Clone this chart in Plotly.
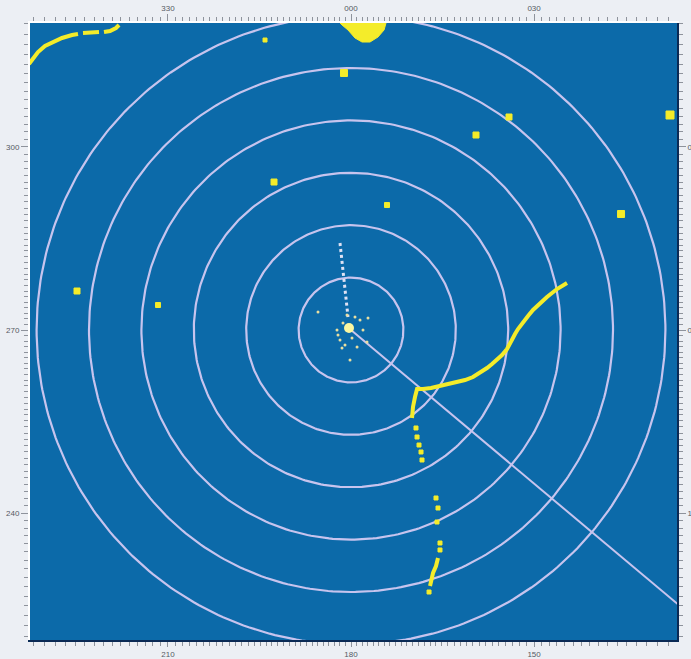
import numpy as np
import plotly.graph_objects as go

# ---------------- data (east / north offsets, one unit = one range ring) ----------------
ring_radii = [1, 2, 3, 4, 5, 6]
heading_bearing = 130
heading_length = 10

coast_x = [-6.145, -6.069, -5.973, -5.840, -5.687, -5.515, -5.324, -5.210, None,
           -5.115, -4.809, None, -4.714, -4.599, -4.485, -4.427]
coast_y = [5.076, 5.191, 5.305, 5.420, 5.496, 5.573, 5.630, 5.649, None,
           5.668, 5.687, None, 5.687, 5.706, 5.763, 5.821]

land_x = [-0.230, -0.210, -0.172, -0.057, 0.076, 0.210, 0.363, 0.515, 0.630, 0.668, 0.690]
land_y = [6.0, 5.859, 5.821, 5.725, 5.573, 5.496, 5.496, 5.592, 5.725, 5.859, 6.0]

blip_x = [-1.641, -0.134, 2.385, 3.015, 6.088, -1.469, 0.687, 5.153, -5.229, -3.683]
blip_y = [5.534, 4.905, 3.721, 4.065, 4.103, 2.824, 2.385, 2.214, 0.744, 0.477]
blip_echo = [4, 7, 6, 6, 8, 6, 5, 7, 6, 5]

track_x = [4.122, 4.046, 3.931, 3.740, 3.607, 3.473, 3.378, 3.282, 3.187, 3.130, 3.053,
           2.977, 2.882, 2.786, 2.691, 2.595, 2.462, 2.328, 2.176, 2.023, 1.851, 1.698,
           1.527, 1.374, 1.260, 1.221, 1.183, 1.164]
track_y = [0.897, 0.859, 0.782, 0.630, 0.515, 0.382, 0.267, 0.153, 0.019, -0.076, -0.229,
           -0.363, -0.477, -0.573, -0.649, -0.725, -0.821, -0.897, -0.954, -0.992, -1.031,
           -1.069, -1.107, -1.126, -1.126, -1.279, -1.469, -1.679]

trail_dots_x = [1.240, 1.260, 1.298, 1.336, 1.355, 1.622, 1.660, 1.641, 1.698, 1.698, 1.489]
trail_dots_y = [-1.870, -2.042, -2.195, -2.328, -2.481, -3.206, -3.397, -3.664, -4.065, -4.198, -5.000]

wake_x = [1.660, 1.622, 1.565, 1.527, 1.508]
wake_y = [-4.351, -4.504, -4.637, -4.771, -4.885]

clutter_x = [0.019, 0.115, -0.248, -0.153, 0.172, 0.324, 0.229, 0.305, -0.210, -0.115,
             -0.019, -0.630, 0.076, -0.076, -0.267, -0.172]
clutter_y = [-0.153, -0.324, -0.095, 0.134, 0.191, 0.229, 0.0, -0.229, -0.191, -0.286,
             -0.573, 0.344, 0.248, 0.286, 0.0, -0.344]
own_ship_x = [-0.038]
own_ship_y = [0.038]

stern_trail_x = [-0.210, -0.057]
stern_trail_y = [1.660, 0.248]

top_labels = {"330": -30, "000": 0, "030": 30}
bottom_labels = {"210": -30, "180": 0, "150": 30}
left_labels = {"240": -30, "270": 0, "300": 30}
right_labels = {"120": -30, "090": 0, "060": 30}

# ---------------- styling ----------------
BLUE = "#0c6aa9"
RING = "#c7c4ee"
YELLOW = "#f4ec2a"
FRAME = "#eceff4"
TICK = "#8e939c"

X_RANGE = [-6.126, 6.221]
Y_RANGE = [-5.916, 5.859]
EDGE = 6.05

fig = go.Figure()

t = np.linspace(0, 2 * np.pi, 361)
for r in ring_radii:
    fig.add_trace(go.Scatter(x=r * np.sin(t), y=r * np.cos(t), mode="lines",
                             line=dict(color=RING, width=2.2), hoverinfo="skip",
                             showlegend=False))

hb = np.radians(heading_bearing)
fig.add_trace(go.Scatter(x=[0, heading_length * np.sin(hb)], y=[0, heading_length * np.cos(hb)],
                         mode="lines", line=dict(color=RING, width=2), showlegend=False))

fig.add_trace(go.Scatter(x=stern_trail_x, y=stern_trail_y, mode="lines",
                         line=dict(color="#dfe2f4", width=3, dash="dot"), showlegend=False))

fig.add_trace(go.Scatter(x=land_x, y=land_y, mode="lines", fill="toself", fillcolor=YELLOW,
                         line=dict(color=YELLOW, width=1), showlegend=False))

fig.add_trace(go.Scatter(x=coast_x, y=coast_y, mode="lines",
                         line=dict(color=YELLOW, width=4), showlegend=False))

fig.add_trace(go.Scatter(x=blip_x, y=blip_y, mode="markers",
                         marker=dict(symbol="square", size=blip_echo, color=YELLOW, opacity=1,
                                     line=dict(width=1, color=YELLOW)), showlegend=False))

fig.add_trace(go.Scatter(x=track_x, y=track_y, mode="lines",
                         line=dict(color=YELLOW, width=4), showlegend=False))

fig.add_trace(go.Scatter(x=trail_dots_x, y=trail_dots_y, mode="markers",
                         marker=dict(symbol="square", size=4, color=YELLOW, opacity=1,
                                     line=dict(width=1, color=YELLOW)), showlegend=False))

fig.add_trace(go.Scatter(x=wake_x, y=wake_y, mode="lines",
                         line=dict(color=YELLOW, width=4), showlegend=False))

fig.add_trace(go.Scatter(x=clutter_x, y=clutter_y, mode="markers",
                         marker=dict(size=3, color="#e9dfa0", opacity=1), showlegend=False))

fig.add_trace(go.Scatter(x=own_ship_x, y=own_ship_y, mode="markers",
                         marker=dict(size=10, color="#fbf7a0", opacity=1), showlegend=False))

# dummy trace to bring the top/right bearing axes to life
fig.add_trace(go.Scatter(x=[0], y=[0], xaxis="x2", yaxis="y2", mode="markers",
                         marker=dict(opacity=0), hoverinfo="skip", showlegend=False))


def proj(a):
    return EDGE * np.tan(np.radians(a))


minor_offsets = list(range(-46, 47))
major_offsets = list(range(-40, 41, 10))


def axis_ticks(labels):
    inv = {v: k for k, v in labels.items()}
    vals = [proj(a) for a in major_offsets]
    txt = [inv.get(a, "") for a in major_offsets]
    return vals, txt


def axis_common(labels, rng, line_color, tlen=7):
    vals, txt = axis_ticks(labels)
    return dict(range=rng, showgrid=False, zeroline=False, ticks="outside", ticklen=tlen,
                tickwidth=1, tickcolor=TICK, tickvals=vals, ticktext=txt, automargin=False,
                tickfont=dict(size=8, color="#555a63", family="Liberation Sans"),
                showline=True, linecolor=line_color, linewidth=2, fixedrange=True,
                minor=dict(tickmode="array", tickvals=[proj(a) for a in minor_offsets],
                           ticks="outside", ticklen=4, tickcolor=TICK, tickwidth=1))


fig.update_layout(
    template="none",
    width=691, height=659,
    margin=dict(l=30, r=14, t=23, b=19, autoexpand=False),
    paper_bgcolor=FRAME, plot_bgcolor=BLUE,
    showlegend=False,
    xaxis=dict(**axis_common(bottom_labels, X_RANGE, "#0a2a55", tlen=5), side="bottom", anchor="y"),
    xaxis2=dict(**axis_common(top_labels, X_RANGE, "#ffffff"), side="top", overlaying="x",
                matches="x", anchor="y"),
    yaxis=dict(**axis_common(left_labels, Y_RANGE, "#ffffff"), side="left", anchor="x"),
    yaxis2=dict(**axis_common(right_labels, Y_RANGE, "#0a2a55"), side="right", overlaying="y",
                matches="y", anchor="x"),
)

fig.write_html(
    "out.html",
    config={"displayModeBar": False},
    post_script="document.body.style.margin='0';document.body.style.overflow='hidden';"
                "document.body.style.background='" + FRAME + "';",
)
